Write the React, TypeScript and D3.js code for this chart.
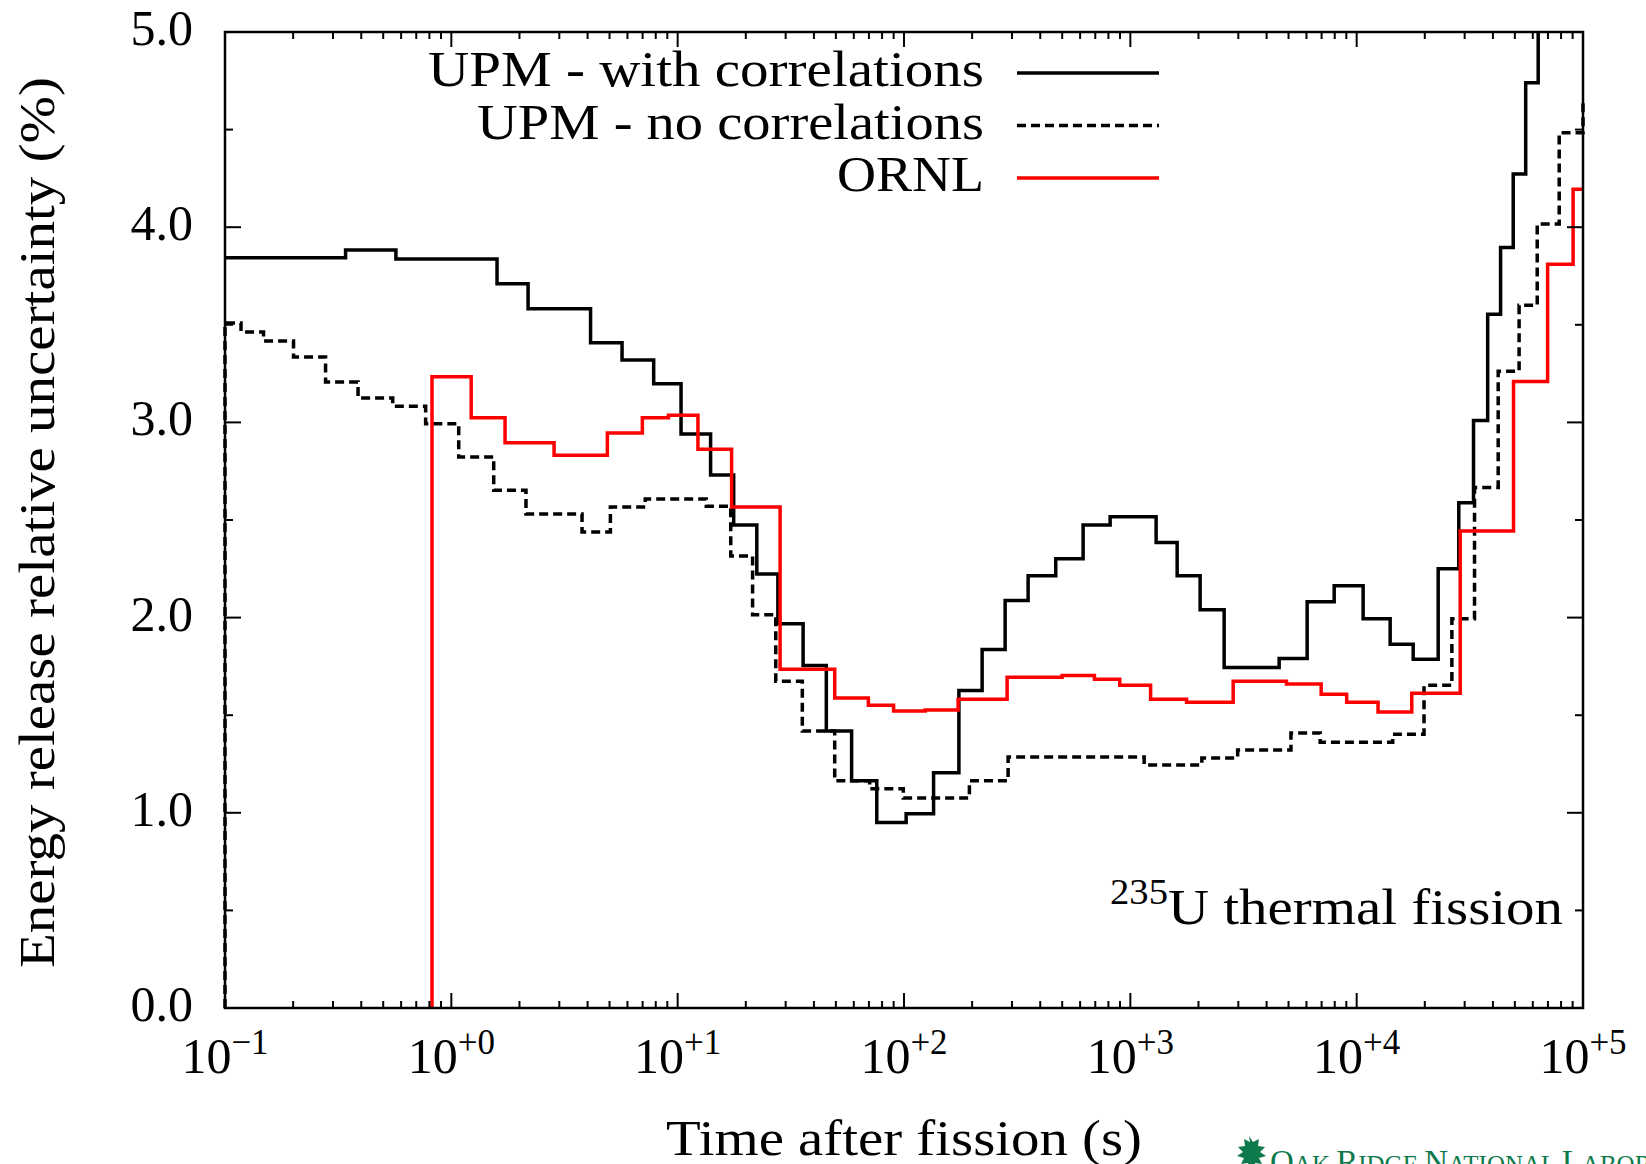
import React from 'react';
import * as d3 from 'd3';

// ---- Data (time in s, relative uncertainty in %) ----
const withCorrEdges = [0.1, 0.341, 0.569, 1.592, 2.183, 4.122, 5.679, 7.834, 10.35, 13.98, 17.68, 22.37, 27.72, 35.83, 45.37, 58.68, 75.82, 102.2, 135.1, 174.8, 221.4, 279.8, 353.5, 468.2, 618.6, 814.3, 1300, 1610, 2034, 2597, 4545, 6043, 7956, 10680, 14060, 17770, 22920, 28260, 32830, 37920, 43240, 49170, 55830, 63390, 100000];
const withCorrValues = [3.843, 3.883, 3.837, 3.71, 3.582, 3.408, 3.32, 3.198, 2.94, 2.73, 2.475, 2.224, 1.969, 1.755, 1.419, 1.164, 0.95, 0.995, 1.205, 1.627, 1.837, 2.088, 2.214, 2.302, 2.475, 2.517, 2.385, 2.214, 2.04, 1.745, 1.79, 2.081, 2.163, 1.994, 1.863, 1.786, 2.25, 2.589, 3.01, 3.554, 3.896, 4.273, 4.74, 5.4, 5.4];

const noCorrEdges = [0.1, 0.1, 0.1177, 0.148, 0.2008, 0.2782, 0.3871, 0.5508, 0.7699, 1.078, 1.539, 2.137, 3.78, 5.043, 7.192, 13.38, 17.16, 21.43, 27.13, 35.54, 49.41, 70.53, 99.29, 194.5, 288.4, 1151, 2070, 2980, 5124, 6898, 14430, 19840, 26340, 33170, 42200, 52200, 62770, 78500, 100000];
const noCorrValues = [0, 3.509, 3.463, 3.417, 3.335, 3.207, 3.125, 3.083, 2.993, 2.823, 2.653, 2.531, 2.439, 2.567, 2.608, 2.571, 2.315, 2.014, 1.674, 1.419, 1.164, 1.123, 1.076, 1.164, 1.286, 1.245, 1.281, 1.322, 1.409, 1.362, 1.403, 1.653, 1.994, 2.667, 3.262, 3.6, 4.017, 4.484, 4.65];

const ornlEdges = [0.8215, 0.8215, 1.224, 1.727, 2.844, 4.891, 6.982, 9.107, 12.29, 17.31, 28.35, 49.41, 69.61, 89.95, 124, 173.4, 285.5, 499.5, 693.9, 897.9, 1229, 1772, 2847, 4896, 6968, 9034, 12430, 17520, 28670, 49320, 69770, 90430, 100000];
const ornlValues = [0, 3.234, 3.024, 2.896, 2.832, 2.946, 3.024, 3.037, 2.863, 2.567, 1.735, 1.588, 1.551, 1.521, 1.527, 1.582, 1.694, 1.704, 1.684, 1.653, 1.582, 1.566, 1.674, 1.66, 1.607, 1.566, 1.516, 1.613, 2.444, 3.21, 3.81, 4.195, 4.195];

const xDecades = [-1, 0, 1, 2, 3, 4, 5];
const xSupLabels = ['\u22121', '+0', '+1', '+2', '+3', '+4', '+5'];
const yMajorTicks = [0, 1, 2, 3, 4, 5];
const yTickLabels = ['0.0', '1.0', '2.0', '3.0', '4.0', '5.0'];
const yMinorTicks = [0.5, 1.5, 2.5, 3.5, 4.5];

const legendLabels = ['UPM - with correlations', 'UPM - no correlations', 'ORNL'];

const W = 1646;
const H = 1164;
const M = { left: 225, right: 1583, top: 32, bottom: 1008 };
const FONT = "'Liberation Serif', 'DejaVu Serif', serif";

export default function App() {
  const x = d3.scaleLog().domain([0.1, 1e5]).range([M.left, M.right]);
  const y = d3.scaleLinear().domain([0, 5]).range([M.bottom, M.top]);

  const line = d3
    .line<[number, number]>()
    .x((d) => x(d[0]))
    .y((d) => y(d[1]))
    .curve(d3.curveStepAfter);

  const toPts = (e: number[], v: number[]) => e.map((t, i) => [t, v[i]] as [number, number]);

  const series = [
    { pts: toPts(withCorrEdges, withCorrValues), color: '#000', dash: undefined as string | undefined },
    { pts: toPts(noCorrEdges, noCorrValues), color: '#000', dash: '9,5' },
    { pts: toPts(ornlEdges, ornlValues), color: '#ff0000', dash: undefined as string | undefined },
  ];

  const xMinor: number[] = [];
  for (let k = -1; k < 5; k++) for (let m = 2; m <= 9; m++) xMinor.push(m * Math.pow(10, k));

  const majLenX = 15, minLenX = 7, majLenY = 16, minLenY = 8;

  const legendY = [86, 138.5, 191];
  const legendStyles = [
    { color: '#000', dash: undefined as string | undefined },
    { color: '#000', dash: '9,5' },
    { color: '#ff0000', dash: undefined as string | undefined },
  ];
  const legendLens = [556, 507, 147];

  return (
    <svg
      width={W}
      height={H}
      viewBox={`0 0 ${W} ${H}`}
      style={{ position: 'absolute', left: 0, top: 0, background: '#fff' }}
      fontFamily={FONT}
    >
      <rect x={0} y={0} width={W} height={H} fill="#fff" />
      <defs>
        <clipPath id="plotClip">
          <rect x={M.left - 3} y={M.top - 1} width={M.right - M.left + 6} height={M.bottom - M.top + 2} />
        </clipPath>
      </defs>

      {/* data */}
      <g clipPath="url(#plotClip)">
        {series.map((s, i) => (
          <path
            key={i}
            d={line(s.pts) || ''}
            fill="none"
            stroke={s.color}
            strokeWidth={3.5}
            strokeDasharray={s.dash}
            strokeLinejoin="miter"
          />
        ))}
      </g>

      {/* ticks */}
      <g stroke="#000" strokeWidth={2}>
        {xDecades.map((k) => {
          const xx = x(Math.pow(10, k));
          return (
            <g key={'xM' + k}>
              <line x1={xx} x2={xx} y1={M.bottom} y2={M.bottom - majLenX} />
              <line x1={xx} x2={xx} y1={M.top} y2={M.top + majLenX} />
            </g>
          );
        })}
        {xMinor.map((v, i) => {
          const xx = x(v);
          return (
            <g key={'xm' + i}>
              <line x1={xx} x2={xx} y1={M.bottom} y2={M.bottom - minLenX} />
              <line x1={xx} x2={xx} y1={M.top} y2={M.top + minLenX} />
            </g>
          );
        })}
        {yMajorTicks.map((v) => {
          const yy = y(v);
          return (
            <g key={'yM' + v}>
              <line x1={M.left} x2={M.left + majLenY} y1={yy} y2={yy} />
              <line x1={M.right} x2={M.right - majLenY} y1={yy} y2={yy} />
            </g>
          );
        })}
        {yMinorTicks.map((v) => {
          const yy = y(v);
          return (
            <g key={'ym' + v}>
              <line x1={M.left} x2={M.left + minLenY} y1={yy} y2={yy} />
              <line x1={M.right} x2={M.right - minLenY} y1={yy} y2={yy} />
            </g>
          );
        })}
      </g>

      {/* frame */}
      <rect
        x={M.left}
        y={M.top}
        width={M.right - M.left}
        height={M.bottom - M.top}
        fill="none"
        stroke="#000"
        strokeWidth={2.5}
      />

      {/* y tick labels */}
      {yMajorTicks.map((v, i) => (
        <text key={'yl' + v} x={193} y={y(v) + 13} textAnchor="end" fontSize={50} fill="#000">
          {yTickLabels[i]}
        </text>
      ))}

      {/* x tick labels */}
      {xDecades.map((k, i) => (
        <text key={'xl' + k} x={x(Math.pow(10, k))} y={1073} textAnchor="middle" fontSize={50} fill="#000">
          10
          <tspan dy={-19} fontSize={35}>
            {xSupLabels[i]}
          </tspan>
        </text>
      ))}

      {/* axis titles */}
      <text
        x={904}
        y={1155}
        textAnchor="middle"
        fontSize={51}
        textLength={476}
        lengthAdjust="spacingAndGlyphs"
        fill="#000"
      >
        Time after fission (s)
      </text>
      <text
        transform={`translate(54, 522.5) rotate(-90)`}
        x={0}
        y={0}
        textAnchor="middle"
        fontSize={51}
        textLength={891}
        lengthAdjust="spacingAndGlyphs"
        fill="#000"
      >
        Energy release relative uncertainty (%)
      </text>

      {/* legend */}
      {legendLabels.map((lab, i) => (
        <g key={'lg' + i}>
          <text
            x={984}
            y={legendY[i]}
            textAnchor="end"
            fontSize={50}
            textLength={legendLens[i]}
            lengthAdjust="spacingAndGlyphs"
            fill="#000"
          >
            {lab}
          </text>
          <line
            x1={1017}
            x2={1159}
            y1={legendY[i] - 13}
            y2={legendY[i] - 13}
            stroke={legendStyles[i].color}
            strokeWidth={3.5}
            strokeDasharray={legendStyles[i].dash}
          />
        </g>
      ))}

      {/* annotation */}
      <text x={1110} y={904} fontSize={35} textLength={58} lengthAdjust="spacingAndGlyphs" fill="#000">
        235
      </text>
      <text x={1168} y={924} fontSize={50} textLength={395} lengthAdjust="spacingAndGlyphs" fill="#000">
        U thermal fission
      </text>

      {/* ORNL logo (cropped at page bottom) */}
      <g fill="#0e7a4c">
        <path d="M1249,1136 l4,6 l6,-3 l-1,7 l7,1 l-5,5 l6,4 l-7,2 l3,6 l-7,-1 l-2,8 l-3,0 l-2,-8 l-7,1 l3,-6 l-7,-2 l6,-4 l-5,-5 l7,-1 l-1,-7 l6,3 z" />
        <text x={1270} y={1173} fontSize={33}>
          O<tspan fontSize={25}>AK </tspan>R<tspan fontSize={25}>IDGE </tspan>N<tspan fontSize={25}>ATIONAL </tspan>L
          <tspan fontSize={25}>ABORATORY</tspan>
        </text>
      </g>
    </svg>
  );
}
